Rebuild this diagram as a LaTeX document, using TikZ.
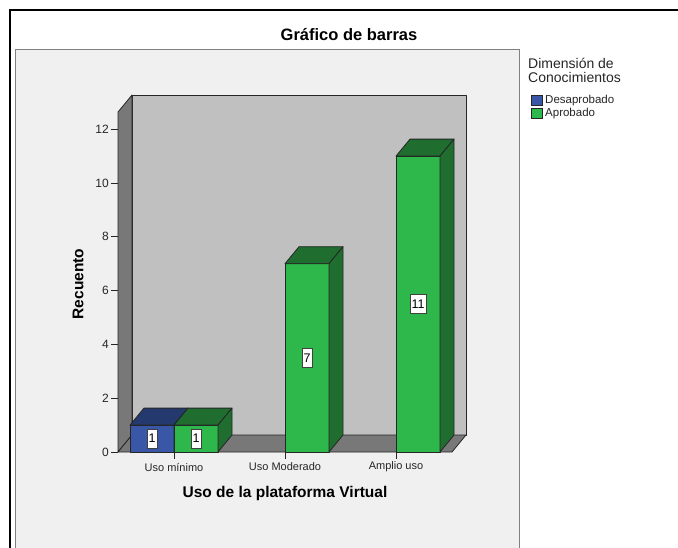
\documentclass[tikz,border=0pt]{standalone}
\usepackage{fontspec}
\setmainfont{Liberation Sans}
\definecolor{panelgray}{HTML}{F0F0F0}
\definecolor{wallgray}{HTML}{C0C0C0}
\definecolor{sidegray}{HTML}{787878}
\definecolor{bluefront}{HTML}{3A56A6}
\definecolor{blueshade}{HTML}{24396E}
\definecolor{greenfront}{HTML}{2EB84B}
\definecolor{greenshade}{HTML}{1F6E2F}
\tikzset{
  facet/.style={draw=black!85, line width=0.8pt, line join=round},
  valbox/.style={draw=black!75, fill=white, line width=0.7pt, inner xsep=1.5pt, inner ysep=0pt,
                 minimum height=19pt, font=\fontsize{12.5}{12.5}\selectfont},
  ticklabel/.style={font=\fontsize{11}{11}\selectfont, text=black!85},
  numlabel/.style={font=\fontsize{12}{12}\selectfont, text=black!85},
  axistitle/.style={font=\fontsize{15.5}{16}\selectfont\bfseries},
  legendtext/.style={font=\fontsize{11.5}{12}\selectfont, text=black!85, anchor=west, inner sep=0pt},
}
% one 3-D bar: #1 left edge, #2 count, #3 face colour, #4 shaded colour, #5 name of its value label
\newcommand\chartbar[5]{%
  \pgfmathsetmacro\bartop{452-#2*26.9}%
  \filldraw[facet, fill=#3] (#1,\bartop) rectangle (#1+44,452);
  \filldraw[facet, fill=#4] (#1,\bartop) -- ++(14,-17) -- ++(44,0) -- ++(-14,17) -- cycle;
  \filldraw[facet, fill=#4] (#1+44,\bartop) -- ++(14,-17) -- (#1+58,435) -- (#1+44,452) -- cycle;
  \pgfmathsetmacro\barmid{(\bartop+452)/2}%
  \node[valbox] (#5) at (#1+22,\barmid) {#2};
}
\begin{document}
\begin{tikzpicture}[x=1pt,y=-1pt]
\useasboundingbox (0,0) rectangle (678,547);
\clip (0,0) rectangle (678,547);
\fill[white] (0,0) rectangle (678,547);

% outer frame
\draw[line width=2pt] (10,560) -- (10,10) -- (690,10);

% chart panel
\filldraw[fill=panelgray, draw=black!50, line width=1pt] (15,49) rectangle (519,570);

\node[font=\fontsize{16.5}{17}\selectfont\bfseries] (title) at (349,35) {Gráfico de barras};

% plot walls and floor
\filldraw[facet, fill=wallgray] (132,95) rectangle (466,435);
\filldraw[facet, fill=sidegray] (118,112) -- (132,95) -- (132,435) -- (118,452) -- cycle;
\filldraw[facet, fill=sidegray] (118,452) -- (132,435) -- (466,435) -- (452,452) -- cycle;

% value axis
\foreach \v in {0,2,...,12}{
  \draw[black!85, line width=0.8pt] (111,452-\v*26.9) -- (118,452-\v*26.9);
  \node[numlabel, anchor=east, inner sep=1pt] (tick\v) at (110,452-\v*26.9) {\v};
}
\node[axistitle, rotate=90] (ytitle) at (78,284) {Recuento};

% category ticks and labels
\foreach \cx/\lab/\nm in {174/Uso mínimo/catA, 285/Uso Moderado/catB, 396/Amplio uso/catC}{
  \draw[black!85, line width=0.8pt] (\cx,452) -- (\cx,459);
  \node[ticklabel] (\nm) at (\cx,467) {\lab};
}
\node[axistitle] (xtitle) at (285,493) {Uso de la plataforma Virtual};

% bars
\chartbar{130}{1}{bluefront}{blueshade}{vA}
\chartbar{174}{1}{greenfront}{greenshade}{vB}
\chartbar{285}{7}{greenfront}{greenshade}{vC}
\chartbar{396}{11}{greenfront}{greenshade}{vD}

% legend
\node[legendtext, font=\fontsize{14}{14}\selectfont, align=left, anchor=north west] (legtitle) at (528,58)
  {Dimensión de\\Conocimientos};
\filldraw[draw=black!85, fill=bluefront, line width=0.8pt] (531,95) rectangle (542,105);
\node[legendtext] (legA) at (545,100.5) {Desaprobado};
\filldraw[draw=black!85, fill=greenfront, line width=0.8pt] (531,108) rectangle (542,118);
\node[legendtext] (legB) at (545,114) {Aprobado};
\end{tikzpicture}
\end{document}
